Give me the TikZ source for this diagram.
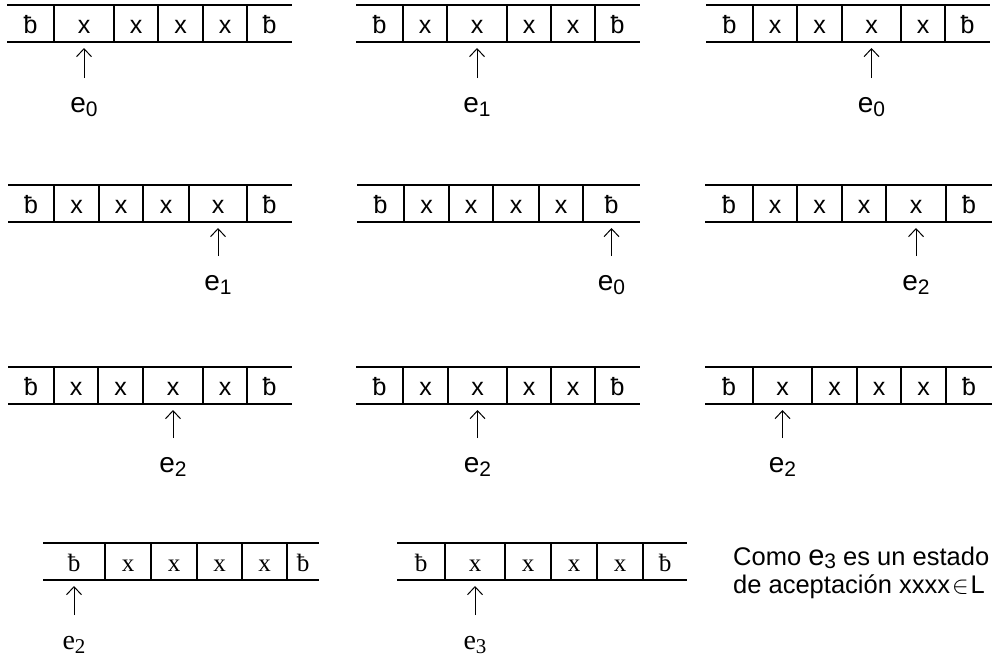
\documentclass[tikz,border=0pt]{standalone}
\usepackage{fontspec}
\setmainfont{Liberation Sans}
\newfontfamily\serifrm{Liberation Serif}
\usetikzlibrary{arrows.meta}

\newcommand\statelab[2]{{#1\fontsize{28}{28}\selectfont e}{#1\fontsize{21}{21}\selectfont\raisebox{-4pt}{#2}}}

\tikzset{
  tapeline/.style={line width=1.8pt},
  divline/.style={line width=1.2pt},
  cellsym/.style={anchor=base, inner sep=0pt},
  statelabel/.style={anchor=base, inner sep=0pt},
  headarrow/.style={line width=1pt, -{Straight Barb[length=8pt,width=15pt,line width=1pt]}, shorten >=15pt},
  plaintext/.style={anchor=base west, inner sep=0pt, font=\fontsize{25.5}{25.5}\selectfont},
}

% #1 name, #2 seven x positions, #3 top y, #4 head cell, #5 subscript,
% #6 font family (\relax or \serifrm), #7 label baseline offset
\newcommand\tapeat[7]{%
  \pgfmathsetmacro\tpL{{#2}[0]}%
  \pgfmathsetmacro\tpR{{#2}[6]}%
  \draw[tapeline] (\tpL,#3) -- (\tpR,#3);
  \draw[tapeline] (\tpL,{#3+37}) -- (\tpR,{#3+37});
  \foreach \i in {1,...,5}{%
    \pgfmathsetmacro\dv{{#2}[\i]}%
    \draw[divline] (\dv,#3) -- (\dv,{#3+37});
  }
  \foreach \i in {0,...,5}{%
    \pgfmathsetmacro\cl{{#2}[\i]}%
    \pgfmathsetmacro\cr{{#2}[\i+1]}%
    \node[cellsym,font=#6\fontsize{25}{25}\selectfont] (#1c\i) at ({(\cl+\cr)/2},{#3+28})
      {\ifnum\i=0 ƀ\else\ifnum\i=5 ƀ\else x\fi\fi};
  }
  \path (#1c#4.base) ++(0,{#7-28}) node[statelabel] (#1lab) {\statelab{#6}{#5}};
  \path (#1c#4.base) ++(0,{#7-62}) coordinate (#1tail);
  \draw[headarrow] (#1tail) -- (#1c#4.base);
}

\begin{document}
\begin{tikzpicture}[x=1pt,y=-1pt]
\useasboundingbox (0,0) rectangle (1000,659);

\tapeat{A}{7,54,114,158,203,247,292}{5}{1}{0}{\relax}{107}
\tapeat{B}{356,403,447,507,551,595,640}{5}{2}{1}{\relax}{107}
\tapeat{C}{706,753,797,842,901,945,990}{5}{3}{0}{\relax}{107}

\tapeat{D}{8,54,99,143,189,247,292}{185}{4}{1}{\relax}{105}
\tapeat{E}{357,404,449,493,539,583,640}{185}{5}{0}{\relax}{105}
\tapeat{F}{705,753,797,842,886,946,992}{185}{4}{2}{\relax}{105}

\tapeat{G}{8,54,98,143,203,247,292}{367}{3}{2}{\relax}{105}
\tapeat{H}{356,403,448,507,551,595,640}{367}{2}{2}{\relax}{105}
\tapeat{I}{705,753,812,857,901,946,992}{367}{1}{2}{\relax}{105}

\tapeat{J}{43,105,151,197,242,287,319}{543}{0}{2}{\serifrm}{106}
\tapeat{K}{397,445,505,551,597,643,687}{543}{1}{3}{\serifrm}{106}

\node[plaintext] (txt1) at (733,565) {Como {\fontsize{29}{29}\selectfont e}{\fontsize{21}{21}\selectfont\raisebox{-3pt}{3}} es un estado};
\node[plaintext] (txt2) at (733,593) {de aceptación xxxx\kern2pt{\fontsize{28}{28}\selectfont$\in$}\kern2pt L};
\end{tikzpicture}
\end{document}
